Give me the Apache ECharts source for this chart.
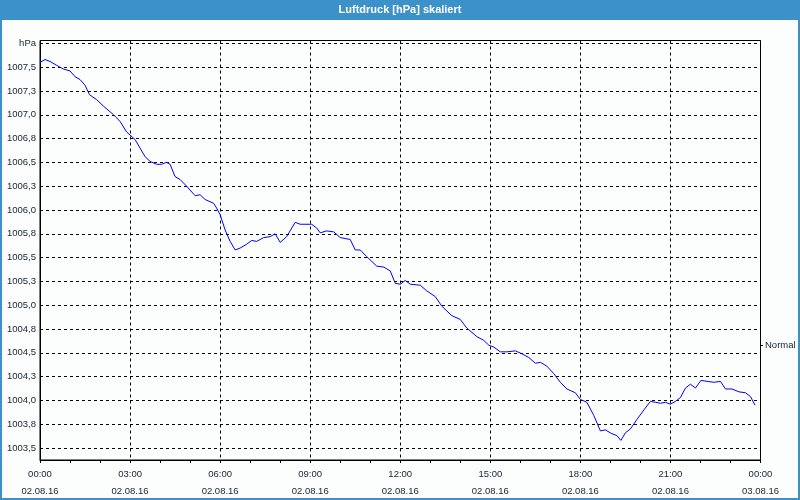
<!DOCTYPE html>
<html>
<head>
<meta charset="utf-8">
<script src="https://cdn.jsdelivr.net/npm/echarts@6/dist/echarts.min.js"></script>
<style>html,body{margin:0;padding:0;background:#fbfefc}#c{width:800px;height:500px}</style>
</head>
<body>
<div id="c"></div>
<script>
// time in minutes since 02.08.16 00:00
const minutes = [0,10,20,33,47,60,70,80,90,99,113,127,147,160,173,190,200,210,220,233,243,253,260,270,280,293,310,320,330,347,353,360,370,380,390,400,413,423,433,447,460,470,480,493,510,520,543,553,560,573,587,600,620,630,640,653,673,687,700,710,720,730,740,760,773,790,803,823,840,853,873,887,897,907,920,933,950,963,977,990,1000,1013,1027,1040,1053,1070,1080,1093,1107,1120,1130,1143,1153,1161,1170,1180,1193,1207,1220,1230,1240,1250,1260,1270,1280,1290,1300,1310,1321,1333,1347,1360,1370,1383,1397,1410,1420,1429];
const pressure = [1007.55,1007.58,1007.56,1007.52,1007.48,1007.46,1007.40,1007.37,1007.31,1007.21,1007.16,1007.09,1007.00,1006.93,1006.82,1006.74,1006.65,1006.56,1006.51,1006.48,1006.48,1006.50,1006.48,1006.35,1006.32,1006.25,1006.15,1006.16,1006.11,1006.07,1006.02,1005.95,1005.79,1005.67,1005.58,1005.60,1005.64,1005.68,1005.67,1005.71,1005.72,1005.75,1005.66,1005.72,1005.87,1005.85,1005.85,1005.81,1005.76,1005.78,1005.77,1005.71,1005.69,1005.58,1005.58,1005.51,1005.41,1005.40,1005.36,1005.23,1005.22,1005.26,1005.22,1005.21,1005.15,1005.09,1004.99,1004.89,1004.85,1004.76,1004.67,1004.63,1004.58,1004.56,1004.51,1004.51,1004.52,1004.49,1004.45,1004.39,1004.40,1004.36,1004.28,1004.19,1004.12,1004.08,1004.01,1003.98,1003.84,1003.68,1003.69,1003.65,1003.63,1003.58,1003.66,1003.70,1003.80,1003.90,1003.99,1003.98,1003.97,1003.98,1003.96,1003.99,1004.03,1004.13,1004.17,1004.13,1004.21,1004.20,1004.19,1004.20,1004.12,1004.12,1004.09,1004.08,1004.04,1003.95];

const yTicks = [1003.5,1003.75,1004.0,1004.25,1004.5,1004.75,1005.0,1005.25,1005.5,1005.75,1006.0,1006.25,1006.5,1006.75,1007.0,1007.25,1007.5,1007.75];
const yTickLabels = ['1003,5','1003,8','1004,0','1004,3','1004,5','1004,8','1005,0','1005,3','1005,5','1005,8','1006,0','1006,3','1006,5','1006,8','1007,0','1007,3','1007,5','hPa'];
const xTicks = [0,180,360,540,720,900,1080,1260,1440];
const xTickLabels = ['00:00\n02.08.16','03:00\n02.08.16','06:00\n02.08.16','09:00\n02.08.16','12:00\n02.08.16','15:00\n02.08.16','18:00\n02.08.16','21:00\n02.08.16','00:00\n03.08.16'];
const titleText = 'Luftdruck [hPa] skaliert';
const seriesName = 'Normal';

const font = 'Liberation Sans, Arial, sans-serif';
const chart = echarts.init(document.getElementById('c'), null, {renderer: 'canvas'});
chart.setOption({
  backgroundColor: '#fbfefc',
  animation: false,
  title: {
    text: titleText, left: 'center', top: 4, padding: 0,
    textStyle: {color: '#ffffff', fontSize: 11, fontWeight: 'bold', fontFamily: font}
  },
  graphic: [
    {type: 'rect', z: -1, shape: {x: 0, y: 0, width: 800, height: 20}, style: {fill: '#3c91c8'}},
    {type: 'rect', z: 100, shape: {x: 1, y: 1, width: 798, height: 498}, style: {fill: 'none', stroke: '#3c91c8', lineWidth: 2}},
    {type: 'line', z: 100, shape: {x1: 760, y1: 345.5, x2: 763, y2: 345.5}, style: {stroke: '#000', lineWidth: 1}},
    {type: 'text', z: 100, x: 765, y: 345, style: {text: seriesName, fill: '#202838', fontSize: 9.5, fontFamily: font, verticalAlign: 'middle'}}
  ],
  grid: {left: 40, right: 39.5, top: 40.5, bottom: 39.5, show: true, borderColor: '#000', borderWidth: 1, backgroundColor: 'transparent'},
  xAxis: {
    type: 'value', min: 0, max: 1440, interval: 180,
    axisLine: {show: true, lineStyle: {color: '#000', width: 1}},
    axisTick: {show: true, length: 3, lineStyle: {color: '#000'}},
    minorTick: {show: true, splitNumber: 3, length: 3, lineStyle: {color: '#000'}},
    splitLine: {show: true, lineStyle: {color: '#000', type: [3, 3], width: 1}},
    axisLabel: {
      margin: 6, fontSize: 9.5, lineHeight: 17, color: '#202838', fontFamily: font,
      formatter: function (v) { const i = xTicks.indexOf(v); return i >= 0 ? xTickLabels[i] : ''; }
    }
  },
  yAxis: {
    type: 'value', min: 1003.374, max: 1007.78,
    axisLine: {show: true, lineStyle: {color: '#000', width: 1}},
    axisTick: {show: false, customValues: yTicks},
    splitLine: {show: true, lineStyle: {color: '#000', type: [3, 3], width: 1}},
    axisLabel: {
      customValues: yTicks, margin: 4, fontSize: 9.5, color: '#202838', fontFamily: font,
      formatter: function (v) {
        for (let i = 0; i < yTicks.length; i++) { if (Math.abs(yTicks[i] - v) < 1e-6) return yTickLabels[i]; }
        return '';
      }
    }
  },
  series: [{
    name: seriesName, type: 'line', showSymbol: false, symbol: 'none',
    data: minutes.map((m, i) => [m, pressure[i]]),
    lineStyle: {color: '#0000ff', width: 1}, itemStyle: {color: '#0000ff'}
  }]
});
</script>
</body>
</html>
